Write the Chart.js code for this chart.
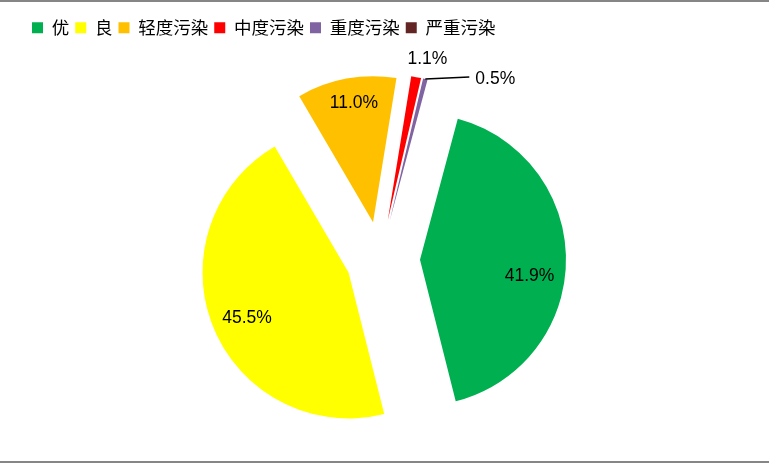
<!DOCTYPE html>
<html><head><meta charset="utf-8">
<script src="https://cdn.jsdelivr.net/npm/chart.js@4/dist/chart.umd.min.js"></script>
<style>html,body{margin:0;padding:0;background:#fff}canvas{display:block}</style>
</head><body>
<canvas id="c" width="769" height="463"></canvas>
<script>
const categories = ['优', '良', '轻度污染', '中度污染', '重度污染', '严重污染'];
const values = [41.9, 45.5, 11.0, 1.1, 0.5, 0];
const valueLabels = ['41.9%', '45.5%', '11.0%', '1.1%', '0.5%', ''];
const colors = ['#00B050', '#FFFF00', '#FFC000', '#FF0000', '#8064A2', '#632523'];
const explode = [40, 34, 38, 40, 40, 0];

// label placement (fraction of radius, angle shift in degrees) or leader line
const labelPlacement = [
  {f: 0.758, da: 8.0},
  {f: 0.762, da: -1.9},
  {f: 0.823, da: 1.4},
  {f: 1.137, da: 2.6},
  {leader: true, dx: 44, dy: -2},
  null
];

// Exploded slices: translate each arc by its full offset along its mid-angle
const Arc = Chart.ArcElement || Chart.registry.getElement('arc');
Arc.prototype.draw = function (ctx) {
  const o = this.options;
  if (!this.circumference) return;
  const mid = (this.startAngle + this.endAngle) / 2;
  const d = o.offset || 0;
  const x = this.x + Math.cos(mid) * d, y = this.y + Math.sin(mid) * d;
  ctx.save();
  ctx.beginPath();
  ctx.moveTo(x, y);
  ctx.arc(x, y, this.outerRadius, this.startAngle, this.endAngle);
  ctx.closePath();
  ctx.fillStyle = o.backgroundColor;
  ctx.fill();
  ctx.restore();
};

const labelPlugin = {
  id: 'sliceLabels',
  afterDatasetsDraw(chart) {
    const ctx = chart.ctx;
    const meta = chart.getDatasetMeta(0);
    ctx.save();
    ctx.font = '17.5px "Liberation Sans", Arial, sans-serif';
    ctx.fillStyle = '#000';
    ctx.textBaseline = 'middle';
    meta.data.forEach((el, i) => {
      const txt = valueLabels[i];
      const p = labelPlacement[i];
      if (!txt || !p || !values[i]) return;
      const mid = (el.startAngle + el.endAngle) / 2;
      const d = el.options.offset || 0;
      const cx = el.x + Math.cos(mid) * d, cy = el.y + Math.sin(mid) * d;
      if (p.leader) {
        const ox = cx + Math.cos(mid) * el.outerRadius, oy = cy + Math.sin(mid) * el.outerRadius;
        const ex = ox + p.dx, ey = oy + p.dy;
        ctx.beginPath();
        ctx.moveTo(ox, oy);
        ctx.lineTo(ex, ey);
        ctx.strokeStyle = '#000';
        ctx.lineWidth = 1.5;
        ctx.stroke();
        ctx.textAlign = 'left';
        ctx.fillText(txt, ex + 6, ey + 2);
      } else {
        const a = mid + p.da * Math.PI / 180;
        const r = p.f * el.outerRadius;
        ctx.textAlign = 'center';
        ctx.fillText(txt, cx + Math.cos(a) * r, cy + Math.sin(a) * r);
      }
    });
    ctx.restore();
  }
};

const framePlugin = {
  id: 'frameLines',
  afterDraw(chart) {
    const ctx = chart.ctx;
    ctx.save();
    ctx.fillStyle = '#868686';
    ctx.fillRect(0, 0, chart.width, 2);
    ctx.fillRect(0, chart.height - 2, chart.width, 2);
    ctx.restore();
  }
};

new Chart(document.getElementById('c'), {
  type: 'pie',
  data: {
    labels: categories,
    datasets: [{
      data: values,
      backgroundColor: colors,
      borderWidth: 0,
      offset: explode,
      rotation: 15,
      radius: 146
    }]
  },
  options: {
    responsive: false,
    animation: false,
    events: [],
    layout: {padding: {left: 26, right: 35, top: 13, bottom: 0}},
    plugins: {
      legend: {
        position: 'top',
        align: 'start',
        labels: {
          boxWidth: 11,
          boxHeight: 11,
          padding: 6,
          color: '#000',
          font: {family: "'Noto Sans CJK SC', sans-serif", size: 17.5}
        }
      },
      title: {
        display: true,
        text: '',
        position: 'top',
        weight: 500,
        padding: 0,
        font: {size: 9.5, lineHeight: 1}
      },
      tooltip: {enabled: false}
    }
  },
  plugins: [labelPlugin, framePlugin]
});
</script>
</body></html>
